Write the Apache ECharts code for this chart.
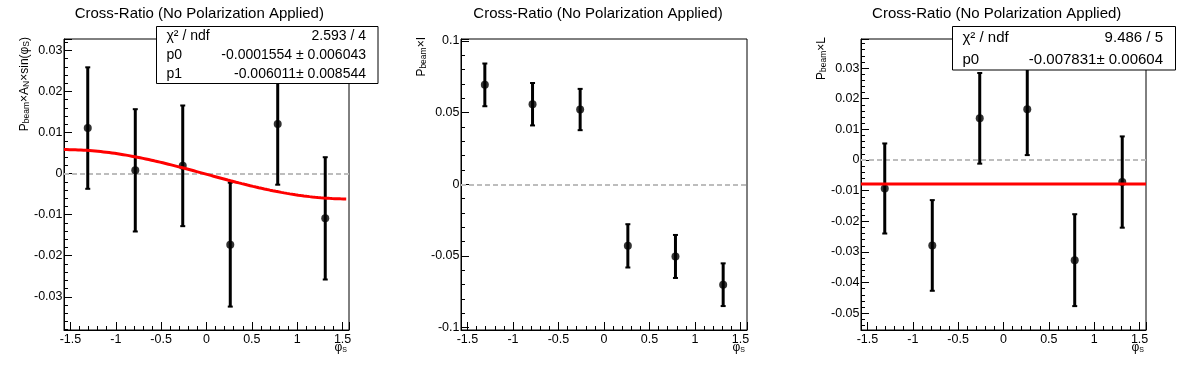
<!DOCTYPE html>
<html><head><meta charset="utf-8">
<script src="https://cdn.jsdelivr.net/npm/echarts@6/dist/echarts.min.js"></script>
<style>html,body{margin:0;padding:0;background:#fff}#c{width:1196px;height:372px}</style>
</head><body><div id="c"></div>
<script>
// ---------- data ----------
const phiBins = [-1.309, -0.785, -0.262, 0.262, 0.785, 1.309];
const anSinValues = [0.0111, 0.0008, 0.0019, -0.0173, 0.0121, -0.0109];
const anSinErrors = [0.0148, 0.0149, 0.0147, 0.0151, 0.0148, 0.0149];
const crossIValues = [0.0694, 0.0559, 0.0522, -0.0429, -0.0503, -0.0700];
const crossIErrors = [0.0149, 0.0148, 0.0144, 0.0151, 0.0150, 0.0149];
const crossLValues = [-0.0093, -0.0279, 0.0136, 0.0166, -0.0327, -0.0072];
const crossLErrors = [0.0147, 0.0148, 0.0148, 0.0150, 0.0150, 0.0149];
const fitSinP0 = -0.0001554, fitSinP1 = -0.006011;
const fitSinRange = [-1.5708, 1.54];
const fitConstP0 = -0.007831;
const fitConstRange = [-1.5708, 1.5708];
const xRange = [-1.5708, 1.5708];
const yRanges = [[-0.0381, 0.0328], [-0.1016, 0.1014], [-0.0555, 0.0395]];
const statsSin = [['χ² / ndf', '2.593 / 4'], ['p0', '-0.0001554 ± 0.006043'], ['p1', '-0.006011± 0.008544']];
const statsConst = [['χ² / ndf', '9.486 / 5'], ['p0', '-0.007831± 0.00604']];
const titleText = 'Cross-Ratio (No Polarization Applied)';
const yNames = ['{m|P}{s|beam}{m|×A}{s|N}{m|×sin(φ}{s|S}{m|)}', '{m|P}{s|beam}{m|×I}', '{m|P}{s|beam}{m|×L}'];
const xName = '{m|φ}{s|S}';

// ---------- layout ----------
const FF = '"Liberation Sans", Arial, Helvetica, sans-serif';
const grids = [
  {left: 64, top: 39, width: 285, height: 291},
  {left: 461, top: 39, width: 286, height: 291},
  {left: 861, top: 39, width: 285, height: 291}
];
const ySplit = [7, 4, 9];
const yStep = [0.01, 0.05, 0.01];

function fmt(step) {
  return function (v) {
    const k = v / step;
    if (Math.abs(k - Math.round(k)) > 1e-6) return '';
    return String(parseFloat(v.toFixed(6)));
  };
}
const yRich = {
  m: {fontSize: 12, lineHeight: 12, verticalAlign: 'top', fontFamily: FF, color: '#000'},
  s: {fontSize: 8.5, lineHeight: 8.5, padding: [6, 0, 0, 0], verticalAlign: 'bottom', fontFamily: FF, color: '#000'}
};
const xRich = {
  m: {fontSize: 12, lineHeight: 12, verticalAlign: 'top', fontFamily: FF, color: '#000'},
  s: {fontSize: 7, lineHeight: 7, padding: [12, 0, 0, 0], verticalAlign: 'bottom', fontFamily: FF, color: '#000'}
};

const xAxes = grids.map((g, i) => ({
  type: 'value', gridIndex: i, min: xRange[0], max: xRange[1], splitNumber: 6,
  axisLine: {show: true, onZero: false, lineStyle: {color: '#000', width: 1}},
  axisTick: {show: true, inside: true, length: 8, lineStyle: {color: '#000', width: 1}},
  minorTick: {show: true, splitNumber: 5, length: 4, lineStyle: {color: '#000', width: 1}},
  splitLine: {show: false},
  axisLabel: {margin: 3, color: '#000', fontSize: 12.5, fontFamily: FF, formatter: fmt(0.5)},
  name: xName, nameLocation: 'end', nameGap: -2, nameMoveOverlap: false,
  nameTextStyle: {align: 'right', verticalAlign: 'top', padding: [12, 0, 0, 0], rich: xRich}
}));
const yAxes = grids.map((g, i) => ({
  type: 'value', gridIndex: i, min: yRanges[i][0], max: yRanges[i][1], splitNumber: ySplit[i],
  axisLine: {show: true, onZero: false, lineStyle: {color: '#000', width: 1}},
  axisTick: {show: true, inside: true, length: 8, lineStyle: {color: '#000', width: 1}},
  minorTick: {show: true, splitNumber: 5, length: 4, lineStyle: {color: '#000', width: 1}},
  splitLine: {show: false},
  axisLabel: {margin: 1.5, color: '#000', fontSize: 12.5, fontFamily: FF, formatter: fmt(yStep[i])},
  name: yNames[i], nameLocation: 'end', nameRotate: 90, nameGap: 2, nameMoveOverlap: false,
  nameTextStyle: {align: 'right', verticalAlign: 'bottom', padding: [0, 0, 33, 0], rich: yRich}
}));

function errorBars(i, vals, errs) {
  return {
    type: 'custom', xAxisIndex: i, yAxisIndex: i, z: 2,
    data: phiBins.map((x, k) => [x, vals[k], errs[k]]),
    encode: {x: 0, y: 1},
    renderItem: function (params, api) {
      const x = api.value(0), y = api.value(1), e = api.value(2);
      const t = api.coord([x, y + e]);
      const b = api.coord([x, y - e]);
      const cw = 2.5;
      const st = {stroke: '#000', lineWidth: 3};
      return {type: 'group', children: [
        {type: 'line', shape: {x1: t[0], y1: t[1], x2: b[0], y2: b[1]}, style: st},
        {type: 'line', shape: {x1: t[0] - cw, y1: t[1], x2: t[0] + cw, y2: t[1]}, style: {stroke: '#000', lineWidth: 2}},
        {type: 'line', shape: {x1: b[0] - cw, y1: b[1], x2: b[0] + cw, y2: b[1]}, style: {stroke: '#000', lineWidth: 2}}
      ]};
    },
    markLine: {
      silent: true, symbol: 'none', z: 1, label: {show: false},
      lineStyle: {color: '#bdbdbd', width: 2, type: [5, 3]},
      emphasis: {disabled: true},
      data: [{yAxis: 0}]
    }
  };
}
function points(i, vals) {
  return {
    type: 'scatter', xAxisIndex: i, yAxisIndex: i, z: 3, symbol: 'circle', symbolSize: 8,
    itemStyle: {color: '#000'}, silent: true,
    data: phiBins.map((x, k) => [x, vals[k]])
  };
}
function fitCurve(i, range, fn) {
  const n = 100, d = [];
  for (let k = 0; k <= n; k++) { const x = range[0] + (range[1] - range[0]) * k / n; d.push([x, fn(x)]); }
  return {type: 'line', xAxisIndex: i, yAxisIndex: i, z: 4, showSymbol: false, silent: true,
    lineStyle: {color: '#ff0000', width: 3}, data: d, animation: false};
}

const series = [
  errorBars(0, anSinValues, anSinErrors), points(0, anSinValues),
  fitCurve(0, fitSinRange, x => fitSinP0 + fitSinP1 * Math.sin(x)),
  errorBars(1, crossIValues, crossIErrors), points(1, crossIValues),
  errorBars(2, crossLValues, crossLErrors), points(2, crossLValues),
  fitCurve(2, fitConstRange, x => fitConstP0)
];

function statsBox(box, rows, fontSize, textLeft, textRight, rowY) {
  const els = [{type: 'rect', z: 100, shape: {x: box[0], y: box[1], width: box[2], height: box[3]},
    style: {fill: '#fff', stroke: '#000', lineWidth: 1}}];
  rows.forEach((r, k) => {
    els.push({type: 'text', z: 101, x: textLeft, y: rowY[k],
      style: {text: r[0], fill: '#000', font: fontSize + 'px ' + FF, align: 'left', verticalAlign: 'middle'}});
    els.push({type: 'text', z: 101, x: textRight, y: rowY[k],
      style: {text: r[1], fill: '#000', font: fontSize + 'px ' + FF, align: 'right', verticalAlign: 'middle'}});
  });
  return els;
}

const option = {
  animation: false,
  backgroundColor: '#fff',
  title: [199.3, 598, 996.7].map(cx => ({
    text: titleText, left: cx, top: 6, textAlign: 'center', padding: 0,
    textStyle: {fontSize: 15, fontWeight: 'normal', color: '#000', fontFamily: FF}
  })),
  grid: grids.map(g => Object.assign({show: true, borderColor: '#000', borderWidth: 1,
    backgroundColor: 'transparent', containLabel: false, outerBoundsMode: 'none'}, g)),
  xAxis: xAxes,
  yAxis: yAxes,
  series: series,
  graphic: [].concat(
    statsBox([156.5, 26.5, 221.5, 57], statsSin, 14, 166.5, 366, [36, 55.5, 74.5]),
    statsBox([952.5, 26.5, 223, 43.5], statsConst, 15, 962.5, 1163, [37.5, 59.5])
  )
};
const chart = echarts.init(document.getElementById('c'), null, {renderer: 'canvas'});
chart.setOption(option);
</script></body></html>
